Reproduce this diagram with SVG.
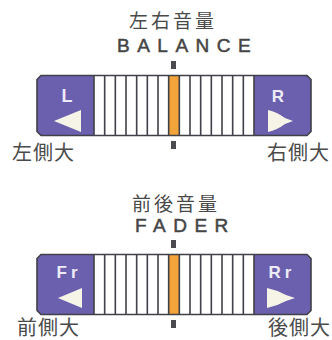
<svg xmlns="http://www.w3.org/2000/svg" xmlns:xlink="http://www.w3.org/1999/xlink" width="332" height="340" viewBox="0 0 332 340">
<style>
.cjk{font-family:"Noto Sans CJK JP","Noto Sans CJK SC",sans-serif;fill:#4a4a4a;}
.latin{font-family:"Liberation Sans Narrow","Liberation Sans",Arial,sans-serif;fill:#454545;stroke:#454545;stroke-width:0.5;}
.btn{font-family:"Liberation Sans",Arial,sans-serif;font-weight:bold;fill:#eeebf8;}
.purple{fill:#6a60ae;}
.line{stroke:#404048;stroke-width:1.6;fill:none;}
.tri{fill:#f6f4e6;}
.mark{fill:#4a4a50;}
</style>
<defs>
<g id="bar">
<path class="purple" d="M41,75.5 H94 V135.5 H41 L37,131.5 V79.5 Z"/>
<path class="purple" d="M254,75.5 H307 L311,79.5 V131.5 L307,135.5 H254 Z"/>
<rect x="94" y="75.5" width="160" height="60" fill="#ffffff"/>
<rect x="168.67" y="75.5" width="10.67" height="60" fill="#f2a43a"/>
<path class="line" d="M94,75.5V135.5M104.67,75.5V135.5M115.33,75.5V135.5M126,75.5V135.5M136.67,75.5V135.5M147.33,75.5V135.5M158,75.5V135.5M168.67,75.5V135.5M179.33,75.5V135.5M190,75.5V135.5M200.67,75.5V135.5M211.33,75.5V135.5M222,75.5V135.5M232.67,75.5V135.5M243.33,75.5V135.5M254,75.5V135.5"/>
<path class="line" stroke-width="2" d="M41,75.5 H307 L311,79.5 V131.5 L307,135.5 H41 L37,131.5 V79.5 Z"/>
<rect class="mark" x="171" y="61" width="5" height="8"/>
<rect class="mark" x="171" y="141" width="5" height="8"/>
</g>
</defs>

<g id="balance-title">
<text class="cjk" x="173" y="27.5" font-size="19" letter-spacing="3" text-anchor="middle">左右音量</text>
<text class="latin" x="117" y="52" font-size="19" letter-spacing="7.5">BALANCE</text>
</g>

<g id="balance-bar">
<use xlink:href="#bar"/>
<text class="btn" x="67" y="102" font-size="18" text-anchor="middle">L</text>
<polygon class="tri" points="54,121 81,110 81,132"/>
<text class="btn" x="278" y="102" font-size="17" text-anchor="middle">R</text>
<path class="tri" d="M268,110 Q277,112 285,118 L293,121 L285,124 Q277,130 268,132 Z"/>
</g>

<g id="balance-labels">
<text class="cjk" x="12" y="159.5" font-size="20" letter-spacing="1">左側大</text>
<text class="cjk" x="267" y="159.5" font-size="20" letter-spacing="1">右側大</text>
</g>

<g id="fader-title">
<text class="cjk" x="176" y="210.5" font-size="19" letter-spacing="3" text-anchor="middle">前後音量</text>
<text class="latin" x="135" y="232" font-size="19" letter-spacing="7.5">FADER</text>
</g>

<g id="fader-bar">
<use xlink:href="#bar" transform="translate(0,179)"/>
<text class="btn" x="69" y="278" font-size="17" text-anchor="middle" letter-spacing="4">Fr</text>
<polygon class="tri" points="58,298 82,288 82,308"/>
<text class="btn" x="282" y="278" font-size="17" text-anchor="middle" letter-spacing="4">Rr</text>
<path class="tri" d="M267,288 Q277,290 286,295 L295,298 L286,301 Q277,306 267,308 Z"/>
</g>

<g id="fader-labels">
<text class="cjk" x="17" y="334.5" font-size="20" letter-spacing="1">前側大</text>
<text class="cjk" x="268" y="334.5" font-size="20" letter-spacing="1">後側大</text>
</g>
</svg>
